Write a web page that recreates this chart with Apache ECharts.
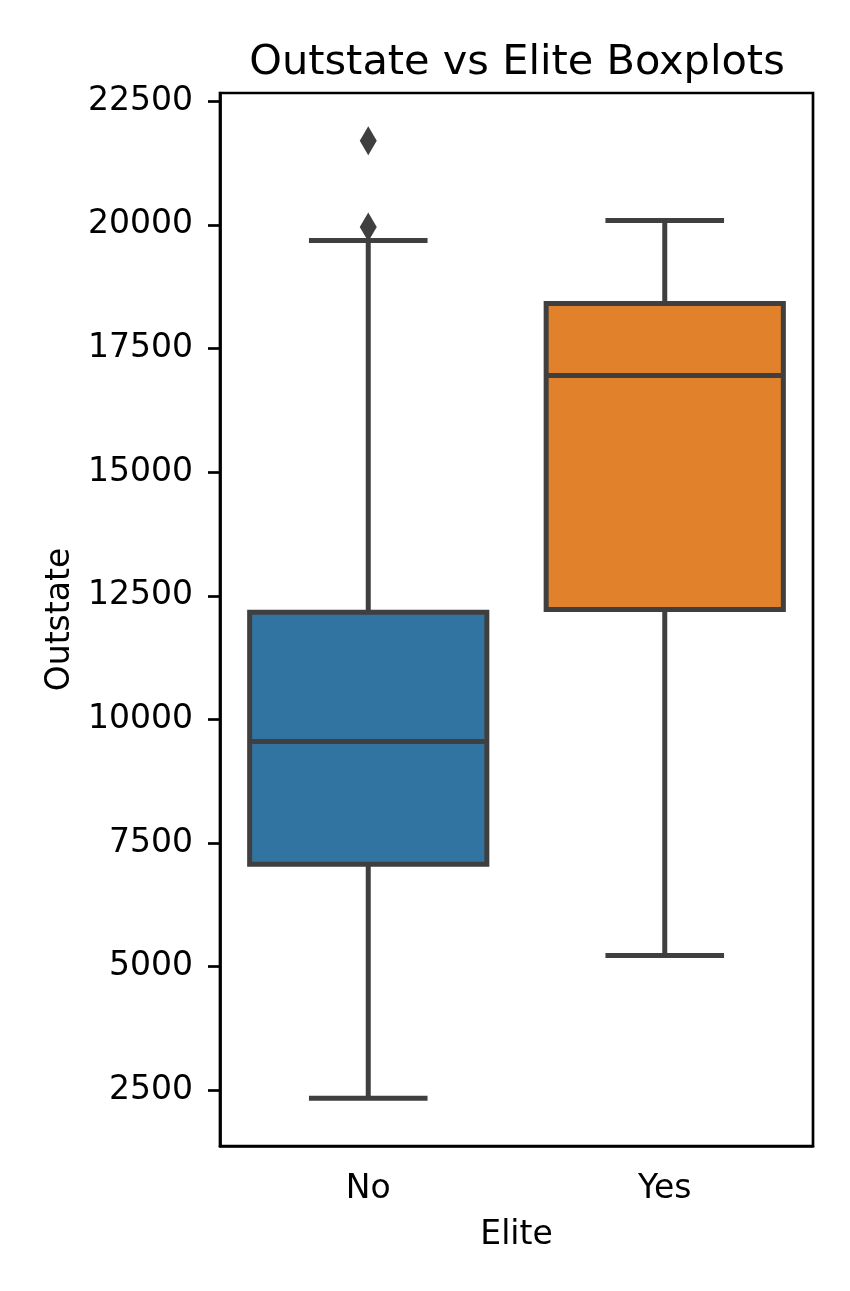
<!DOCTYPE html>
<html>
<head>
<meta charset="utf-8">
<title>Outstate vs Elite Boxplots</title>
<script src="https://cdn.jsdelivr.net/npm/echarts@6/dist/echarts.min.js"></script>
<style>
    html, body { margin: 0; padding: 0; background: #fff; }
    #chart { width: 850px; height: 1291px; }
</style>
</head>
<body>
<div id="chart"></div>
<script>
// Box statistics per category
const categories = ['No', 'Yes'];
const whiskerLow = [2340, 5225];
const q1 = [7070, 12220];
const median = [9555, 16955];
const q3 = [12165, 18410];
const whiskerHigh = [19685, 20090];

// Fliers
const outlierCat = ['No', 'No'];
const outlierVal = [21700, 19960];

// Y axis ticks
const yTicks = [2500, 5000, 7500, 10000, 12500, 15000, 17500, 20000, 22500];

const boxColors = ['#3274a1', '#e1812c'];
const lineColor = '#3f3f3f';
const font = 'DejaVu Sans';

const chart = echarts.init(document.getElementById('chart'));

const boxData = categories.map((c, i) => [i, whiskerLow[i], q1[i], median[i], q3[i], whiskerHigh[i]]);

function renderBox(params, api) {
    const idx = api.value(0);
    const band = api.size([1, 0])[0];
    const boxHalf = band * 0.4;
    const capHalf = band * 0.2;
    const pLow = api.coord([idx, api.value(1)]);
    const pQ1 = api.coord([idx, api.value(2)]);
    const pMed = api.coord([idx, api.value(3)]);
    const pQ3 = api.coord([idx, api.value(4)]);
    const pHigh = api.coord([idx, api.value(5)]);
    const x = pQ1[0];
    const line = { stroke: lineColor, lineWidth: 5 };

    return {
        type: 'group',
        children: [
            { type: 'line', shape: { x1: x, y1: pQ1[1], x2: x, y2: pLow[1] }, style: line },
            { type: 'line', shape: { x1: x, y1: pQ3[1], x2: x, y2: pHigh[1] }, style: line },
            { type: 'line', shape: { x1: x - capHalf, y1: pLow[1], x2: x + capHalf, y2: pLow[1] }, style: line },
            { type: 'line', shape: { x1: x - capHalf, y1: pHigh[1], x2: x + capHalf, y2: pHigh[1] }, style: line },
            {
                type: 'rect',
                shape: { x: x - boxHalf, y: pQ3[1], width: boxHalf * 2, height: pQ1[1] - pQ3[1] },
                style: { fill: boxColors[idx], stroke: lineColor, lineWidth: 5 }
            },
            { type: 'line', shape: { x1: x - boxHalf, y1: pMed[1], x2: x + boxHalf, y2: pMed[1] }, style: line }
        ]
    };
}

const option = {
    animation: false,
    backgroundColor: '#fff',
    textStyle: { fontFamily: font, color: '#000' },
    title: {
        text: 'Outstate vs Elite Boxplots',
        left: 512,
        textAlign: 'center',
        top: 37,
        textStyle: { fontFamily: font, fontSize: 41.5, fontWeight: 'normal', color: '#000' }
    },
    grid: {
        left: 220,
        right: 37,
        top: 93,
        bottom: 145,
        show: true,
        borderColor: '#000',
        borderWidth: 2.7
    },
    xAxis: {
        type: 'category',
        data: categories,
        name: 'Elite',
        nameLocation: 'middle',
        nameGap: 73,
        nameTextStyle: { fontFamily: font, fontSize: 33, color: '#000' },
        axisLine: { lineStyle: { color: '#000', width: 2.7 } },
        axisTick: { alignWithLabel: true, length: 12, lineStyle: { color: '#000', width: 2.7 } },
        axisLabel: { fontFamily: font, fontSize: 33, color: '#000', margin: 27 },
        splitLine: { show: false }
    },
    yAxis: {
        type: 'value',
        min: 1372,
        max: 22668,
        name: 'Outstate',
        nameLocation: 'middle',
        nameGap: 140,
        nameTextStyle: { fontFamily: font, fontSize: 33, color: '#000' },
        axisLine: { show: true, lineStyle: { color: '#000', width: 2.7 } },
        axisTick: { show: true, customValues: yTicks, length: 12, lineStyle: { color: '#000', width: 2.7 } },
        axisLabel: {
            customValues: yTicks,
            formatter: v => String(v),
            fontFamily: font, fontSize: 33, color: '#000', margin: 27
        },
        splitLine: { show: false }
    },
    series: [
        {
            type: 'custom',
            renderItem: renderBox,
            encode: { x: 0, y: [1, 2, 3, 4, 5] },
            data: boxData,
            z: 2
        },
        {
            type: 'scatter',
            symbol: 'diamond',
            symbolSize: [17, 29],
            itemStyle: { color: lineColor, opacity: 1 },
            data: outlierCat.map((c, i) => [c, outlierVal[i]]),
            z: 3
        }
    ]
};

chart.setOption(option);
</script>
</body>
</html>
